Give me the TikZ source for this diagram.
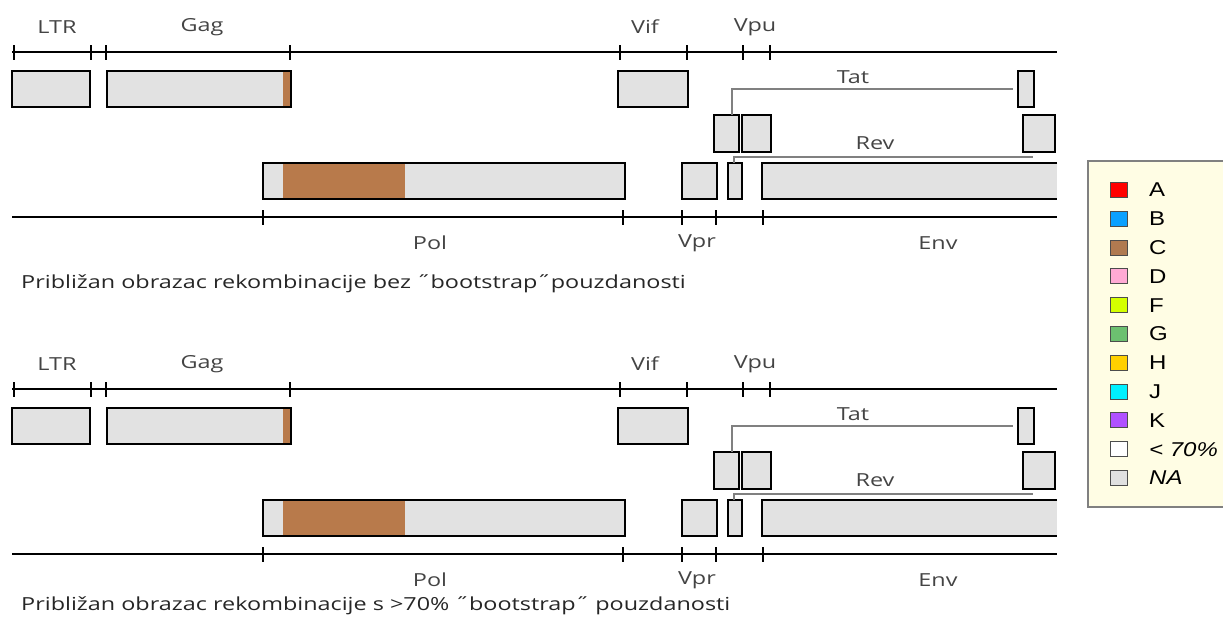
\documentclass[tikz,border=0pt]{standalone}
\usepackage{fontspec}
\setmainfont{Open Sans}
\newfontfamily\legfont{Liberation Sans}
\usepackage{tikz}

\definecolor{boxgray}{HTML}{E2E2E2}
\definecolor{subC}{HTML}{B87A4B}
\definecolor{labgray}{HTML}{444444}
\definecolor{legbg}{HTML}{FFFDE4}

% text in the figure is set a bit wider than the font
\newcommand{\wide}[2][1.3]{\scalebox{#1}[1]{#2}}

\tikzset{
  axis/.style={line width=1.3pt},
  gbox/.style={rectangle,draw,fill=boxgray,line width=1.5pt,inner sep=0pt,outer sep=0pt,anchor=north west},
  lbl/.style={text=labgray,font=\fontsize{18}{20}\selectfont,inner sep=0pt},
  splice/.style={draw=gray,line width=2pt},
  caption/.style={anchor=west,inner sep=0pt,text=black!85,font=\fontsize{18}{20}\selectfont},
  legsq/.style={rectangle,draw=black!70,line width=1pt,minimum width=17pt,minimum height=15pt,inner sep=0pt},
  legtxt/.style={font=\legfont\fontsize{20}{22}\selectfont,anchor=west,inner sep=0pt},
}

% one genome map, node names get prefix #1
\newcommand{\genomemap}[1]{%
   \coordinate (#1topL) at (12,52);
   \coordinate (#1topR) at (1057,52);
   \draw[axis] (#1topL) -- (#1topR);
   \foreach \t in {14,91,106,290,620,687,743,770} \draw[axis] (\t,45) -- (\t,60);
   \node[lbl] (#1ltrlab) at (57,27) {\wide{LTR}};
   \node[lbl] (#1gaglab) at (202,27) {\wide{Gag}};
   \node[lbl] (#1viflab) at (645,27) {\wide{Vif}};
   \node[lbl] (#1vpulab) at (755,27) {\wide{Vpu}};

   \node[gbox,minimum width=78pt,minimum height=36pt] (#1ltr) at (12,71) {};
   \node[gbox,minimum width=184pt,minimum height=36pt] (#1gag) at (107,71) {};
   \fill[subC] ([xshift=-8pt]#1gag.north east) rectangle (#1gag.south east);
   \draw[line width=1.5pt] (#1gag.north west) rectangle (#1gag.south east);
   \node[gbox,minimum width=70pt,minimum height=36pt] (#1vif) at (618,71) {};
   \node[gbox,minimum width=16pt,minimum height=36pt] (#1tatb) at (1018,71) {};

   \node[gbox,minimum width=25pt,minimum height=37pt] (#1tata) at (714,115) {};
   \node[gbox,minimum width=29pt,minimum height=37pt] (#1reva) at (742,115) {};
   \node[gbox,minimum width=32pt,minimum height=37pt] (#1revb) at (1023,115) {};

   \node[gbox,minimum width=362pt,minimum height=36pt] (#1pol) at (263,163) {};
   \fill[subC] ([xshift=20pt]#1pol.north west) rectangle ([xshift=142pt]#1pol.south west);
   \draw[line width=1.5pt] (#1pol.north west) rectangle (#1pol.south east);
   \node[gbox,minimum width=35pt,minimum height=36pt] (#1vpr) at (682,163) {};
   \node[gbox,minimum width=14pt,minimum height=36pt] (#1revs) at (728,163) {};
   \node[gbox,draw=none,minimum width=295pt,minimum height=36pt] (#1env) at (762,163) {};
   \draw[line width=1.5pt] (#1env.north east) -- (#1env.north west) -- (#1env.south west) -- (#1env.south east);

   % splice lines
   \coordinate (#1tatend) at ([xshift=-5pt]#1tatb.west);
   \coordinate (#1revend) at ([xshift=-6pt,yshift=-5pt]#1revb.south);
   \draw[splice] ([xshift=5.5pt]#1tata.north) |- (#1tatend);
   \draw[splice] ([xshift=-1pt]#1revs.north) |- (#1revend);
   \node[lbl] (#1tatlab) at (853,77) {\wide{Tat}};
   \node[lbl] (#1revlab) at (875,143) {\wide{Rev}};

   \coordinate (#1botL) at (12,217);
   \coordinate (#1botR) at (1057,217);
   \draw[axis] (#1botL) -- (#1botR);
   \foreach \t in {263,623,682,716,763} \draw[axis] (\t,210) -- (\t,225);
   \node[lbl] (#1pollab) at (430,243) {\wide{Pol}};
   \node[lbl] (#1vprlab) at (697,243) {\wide{Vpr}};
   \node[lbl] (#1envlab) at (938,243) {\wide{Env}};
}

\begin{document}
\begin{tikzpicture}[x=1pt,y=-1pt]
   \useasboundingbox (0,0) rectangle (1223,625);

   \genomemap{u}
   \node[caption] (cap1) at (21,284)
      {\wide{Približan obrazac rekombinacije bez ˝bootstrap˝pouzdanosti}};

   \begin{scope}[yshift=-337pt]
      \genomemap{l}
   \end{scope}
   \node[caption] (cap2) at (21,606)
      {\wide{Približan obrazac rekombinacije s >70\% ˝bootstrap˝ pouzdanosti}};

   % legend
   \fill[legbg] (1088,161) rectangle (1223,507);
   \draw[draw=gray,line width=1.5pt] (1223,161) -- (1088,161) -- (1088,507) -- (1223,507);
   \foreach \c/\n [count=\i from 0] in {FF0000/A,0AA0FF/B,B07A50/C,FFAAD4/D,D4FF00/F,6CC070/G,FFD000/H,00F0FF/J,B050FF/K,FFFFFF/{\textit{< 70\%}},E0E0E0/{\textit{NA}}} {
      \definecolor{lc}{HTML}{\c}
      \node[legsq,fill=lc] (sq\i) at (1119,190+28.8*\i) {};
      \node[legtxt] (lt\i) at (1149,190+28.8*\i) {\wide[1.2]{\n}};
   }
\end{tikzpicture}
\end{document}
